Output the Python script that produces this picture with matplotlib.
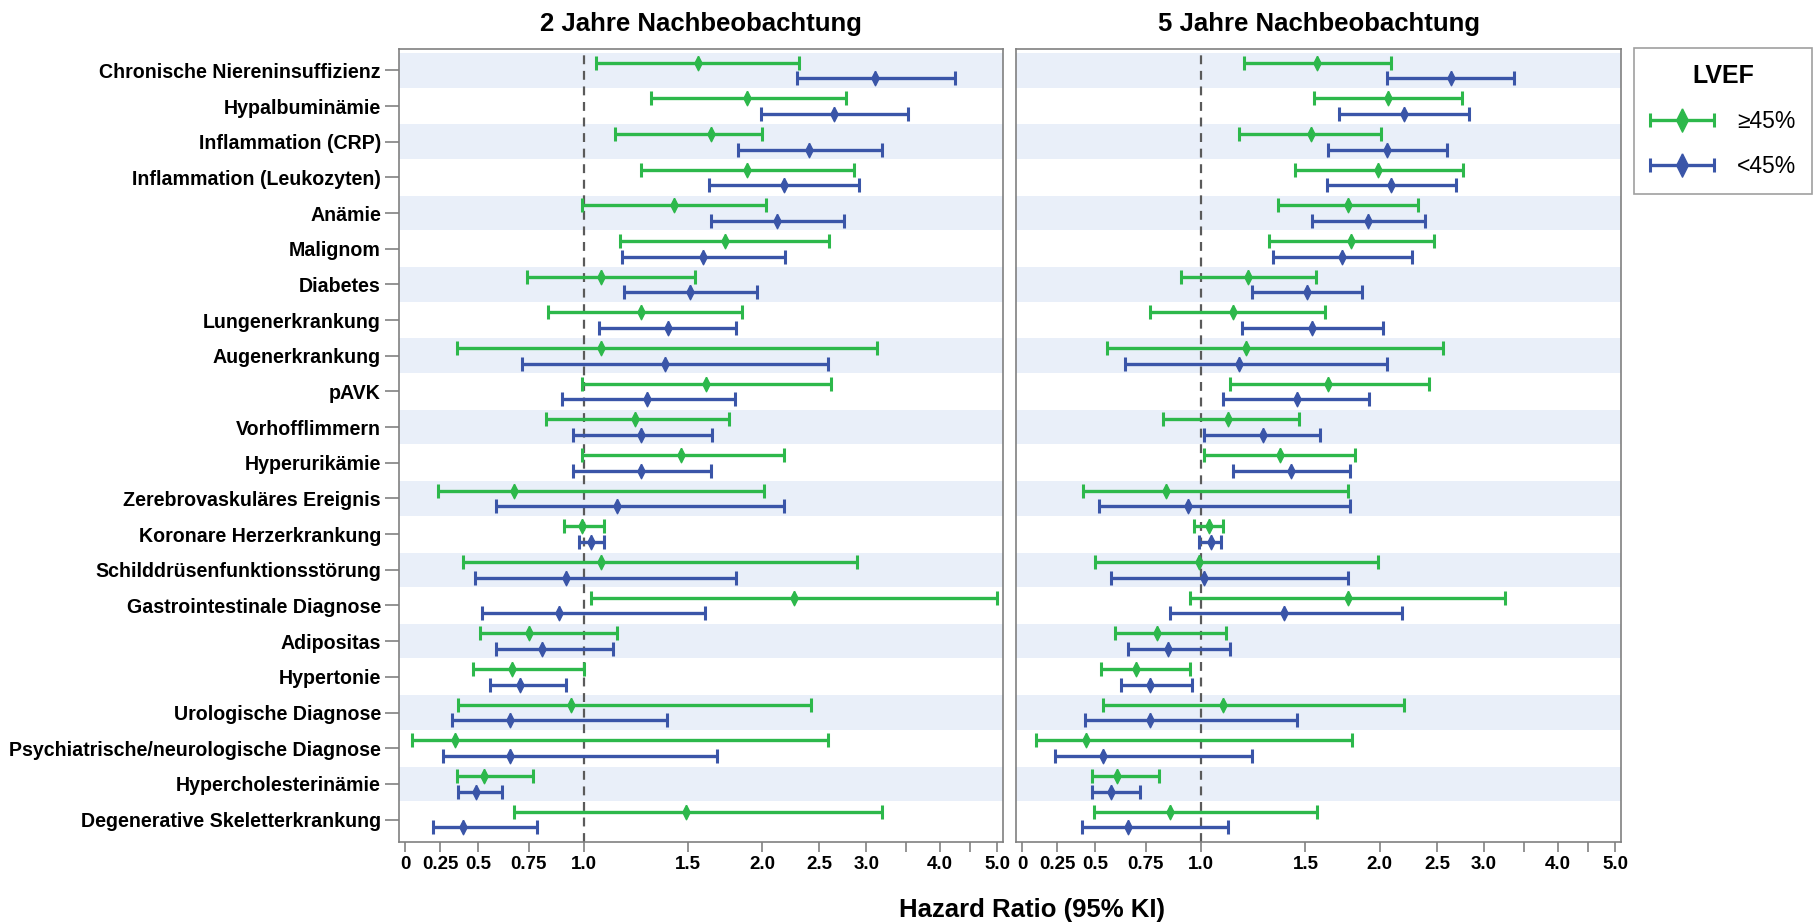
import numpy as np
import matplotlib
matplotlib.use("Agg")
import matplotlib.pyplot as plt
from matplotlib.container import ErrorbarContainer
from matplotlib.legend_handler import HandlerErrorbar

plt.rcParams['font.family'] = ['Liberation Sans', 'DejaVu Sans']

names = ["Chronische Niereninsuffizienz", "Hypalbuminämie", "Inflammation (CRP)",
         "Inflammation (Leukozyten)", "Anämie", "Malignom", "Diabetes",
         "Lungenerkrankung", "Augenerkrankung", "pAVK", "Vorhofflimmern",
         "Hyperurikämie", "Zerebrovaskuläres Ereignis", "Koronare Herzerkrankung",
         "Schilddrüsenfunktionsstörung", "Gastrointestinale Diagnose", "Adipositas",
         "Hypertonie", "Urologische Diagnose", "Psychiatrische/neurologische Diagnose",
         "Hypercholesterinämie", "Degenerative Skeletterkrankung"]

# 2 Jahre, LVEF >=45%
hr2_p = [1.56, 1.89, 1.64, 1.89, 1.42, 1.73, 1.07, 1.25, 1.07, 1.61, 1.22,
         1.46, 0.68, 0.99, 1.07, 2.27, 0.75, 0.67, 0.94, 0.35, 0.53, 1.49]
lo2_p = [1.05, 1.30, 1.13, 1.25, 0.99, 1.15, 0.74, 0.84, 0.36, 0.99, 0.83,
         0.99, 0.23, 0.91, 0.40, 1.03, 0.51, 0.47, 0.37, 0.05, 0.36, 0.68]
hi2_p = [2.31, 2.77, 2.00, 2.86, 2.03, 2.60, 1.54, 1.85, 3.13, 2.62, 1.76,
         2.18, 2.02, 1.08, 2.89, 4.99, 1.14, 1.00, 2.42, 2.59, 0.77, 3.19]
# 2 Jahre, LVEF <45%
hr2_r = [3.11, 2.65, 2.40, 2.18, 2.12, 1.59, 1.51, 1.39, 1.37, 1.28, 1.25,
         1.25, 1.14, 1.03, 0.92, 0.89, 0.81, 0.71, 0.66, 0.66, 0.49, 0.40]
lo2_r = [2.29, 1.99, 1.82, 1.63, 1.64, 1.16, 1.17, 1.06, 0.72, 0.90, 0.95,
         0.95, 0.59, 0.98, 0.48, 0.52, 0.59, 0.56, 0.33, 0.27, 0.37, 0.20]
hi2_r = [4.24, 3.53, 3.19, 2.92, 2.75, 2.19, 1.96, 1.81, 2.59, 1.80, 1.65,
         1.64, 2.18, 1.08, 1.81, 1.60, 1.12, 0.92, 1.38, 1.68, 0.62, 0.79]

# 5 Jahre, LVEF >=45%
hr5_p = [1.57, 2.07, 1.53, 1.99, 1.77, 1.79, 1.20, 1.13, 1.19, 1.64, 1.11,
         1.36, 0.84, 1.03, 0.99, 1.77, 0.80, 0.70, 1.09, 0.44, 0.61, 0.86]
lo5_p = [1.18, 1.55, 1.16, 1.44, 1.35, 1.30, 0.91, 0.77, 0.56, 1.12, 0.83,
         1.01, 0.42, 0.97, 0.50, 0.95, 0.60, 0.53, 0.54, 0.10, 0.48, 0.49]
hi5_p = [2.09, 2.75, 2.01, 2.77, 2.32, 2.47, 1.56, 1.62, 2.56, 2.42, 1.46,
         1.82, 1.77, 1.09, 1.99, 3.26, 1.10, 0.95, 2.20, 1.80, 0.81, 1.57]
# 5 Jahre, LVEF <45%
hr5_r = [2.64, 2.20, 2.06, 2.09, 1.91, 1.73, 1.51, 1.54, 1.16, 1.45, 1.27,
         1.42, 0.94, 1.04, 1.01, 1.38, 0.85, 0.77, 0.77, 0.54, 0.58, 0.66]
lo5_r = [2.06, 1.71, 1.64, 1.63, 1.54, 1.32, 1.22, 1.17, 0.65, 1.09, 1.01,
         1.13, 0.52, 0.99, 0.58, 0.86, 0.66, 0.63, 0.43, 0.23, 0.48, 0.41]
hi5_r = [3.37, 2.83, 2.60, 2.69, 2.39, 2.27, 1.87, 2.03, 2.06, 1.92, 1.59,
         1.78, 1.78, 1.08, 1.77, 2.18, 1.12, 0.96, 1.45, 1.22, 0.72, 1.11]

x_ticks = [0, 0.25, 0.5, 0.75, 1.0, 1.5, 2.0, 2.5, 3.0, 3.5, 4.0, 4.5, 5.0]
x_labels = ["0", "0.25", "0.5", "0.75", "1.0", "1.5", "2.0", "2.5", "3.0", "", "4.0", "", "5.0"]

# axis: log above 1, stretched piecewise scale below 1
X_KN = np.array([0, 0.25, 0.5, 0.75, 1.0])
U_KN = np.array([-0.695, -0.558, -0.412, -0.215, 0.0])
slope0 = (U_KN[1] - U_KN[0]) / 0.25


def fwd(x):
    x = np.asarray(x, dtype=float)
    lo = np.interp(x, X_KN, U_KN)
    lo = np.where(x < 0, U_KN[0] + x * slope0, lo)
    hi = np.log(np.clip(x, 1.0, None))
    return np.where(x >= 1, hi, lo)


def inv(u):
    u = np.asarray(u, dtype=float)
    lo = np.interp(u, U_KN, X_KN)
    lo = np.where(u < U_KN[0], (u - U_KN[0]) / slope0, lo)
    hi = np.exp(np.clip(u, 0, None))
    return np.where(u >= 0, hi, lo)


green = '#2DB84B'
blue = '#3A55A8'
band = '#E9EFF9'
diamond = [(0, 1), (0.5, 0), (0, -1), (-0.5, 0), (0, 1)]

fig = plt.figure(figsize=(18.18, 9.23), dpi=100)
W, H = 1818, 923
bottom = 1 - 842 / H
height = (842 - 49) / H
ax1 = fig.add_axes([399 / W, bottom, 604 / W, height])
ax2 = fig.add_axes([1016 / W, bottom, 605 / W, height])

y = np.arange(len(names))
off = 0.22

panels = [(ax1, hr2_p, lo2_p, hi2_p, hr2_r, lo2_r, hi2_r, "2 Jahre Nachbeobachtung"),
          (ax2, hr5_p, lo5_p, hi5_p, hr5_r, lo5_r, hi5_r, "5 Jahre Nachbeobachtung")]

handles = []
for ax, hp, lp, up, hr, lr, ur, title in panels:
    ax.set_xscale('function', functions=(fwd, inv))
    for i in range(0, len(names), 2):
        ax.axhspan(i - 0.485, i + 0.485, color=band, lw=0, zorder=0)
    ax.axvline(1.0, color='#5a5a5a', lw=1.6, dashes=(4, 3), zorder=1)
    hp, lp, up = np.array(hp), np.array(lp), np.array(up)
    hr, lr, ur = np.array(hr), np.array(lr), np.array(ur)
    e1 = ax.errorbar(hp, y - off, xerr=[hp - lp, up - hp], marker=diamond, ms=10.5,
                     color=green, ecolor=green, elinewidth=2.4, capsize=5, capthick=2.2,
                     linestyle='none', zorder=3)
    e2 = ax.errorbar(hr, y + off, xerr=[hr - lr, ur - hr], marker=diamond, ms=10.5,
                     color=blue, ecolor=blue, elinewidth=2.4, capsize=5, capthick=2.2,
                     linestyle='none', zorder=3)
    if not handles:
        handles = [e1, e2]
    ax.set_xlim(-0.044, 5.11)
    ax.set_ylim(len(names) - 1 + 0.63, -0.6)
    ax.set_xticks(x_ticks)
    ax.set_xticklabels(x_labels, fontsize=13.5, fontweight='bold')
    ax.minorticks_off()
    ax.tick_params(axis='x', length=7, width=1.1, color='#777777', pad=3)
    for s in ax.spines.values():
        s.set_color('#808080')
        s.set_linewidth(1.2)
    x0, x1 = ax.get_position().x0, ax.get_position().x1
    fig.text((x0 + x1) / 2, 1 - 24 / H, title, ha='center', va='center',
             fontsize=18.5, fontweight='bold')

ax1.set_yticks(y)
ax1.set_yticklabels(names, fontsize=14.1, fontweight='bold')
ax1.tick_params(axis='y', length=10, width=1.1, color='#777777', pad=3)
ax2.set_yticks([])

fig.text(1032 / W, 1 - 910 / H, "Hazard Ratio (95% KI)", ha='center', va='center',
         fontsize=18.5, fontweight='bold')

leg = fig.legend(handles, ['≥45%', '<45%'], title='LVEF', loc='upper left',
                 bbox_to_anchor=(1634 / W, 1 - 48 / H), borderaxespad=0,
                 frameon=True, fancybox=False, edgecolor='#888888', prop={'size': 16.5},
                 title_fontproperties={'size': 18, 'weight': 'bold'},
                 handlelength=2.8, handletextpad=1.0, labelspacing=0.95,
                 borderpad=0.7, markerscale=1.6,
                 handler_map={ErrorbarContainer: HandlerErrorbar(xerr_size=1.4)})
leg.get_frame().set_linewidth(1.2)

fig.savefig("out.png", dpi=100)
